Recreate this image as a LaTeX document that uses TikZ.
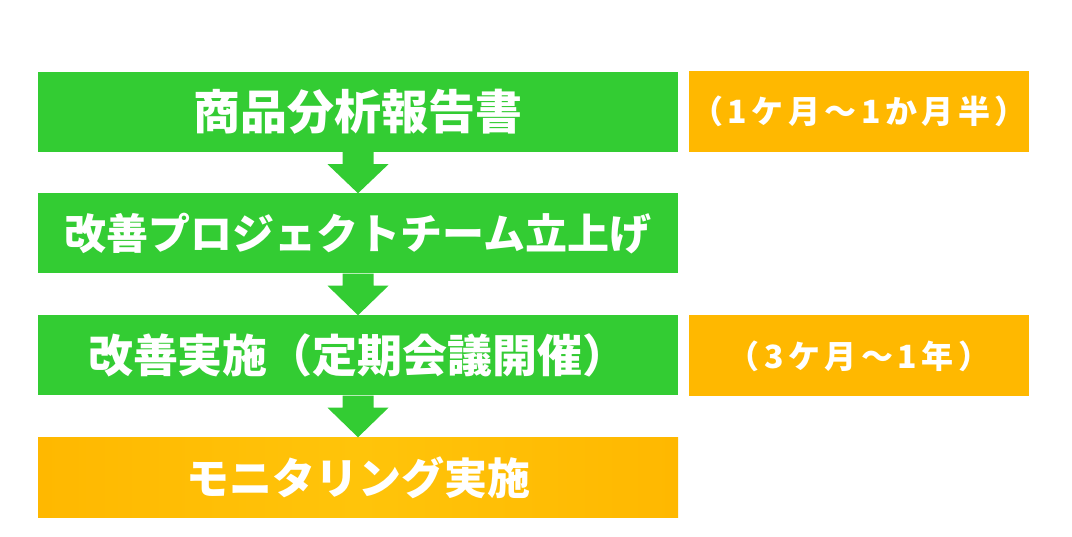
\documentclass[tikz,border=0pt]{standalone}
\usepackage{fontspec}
\newfontfamily\jp{Noto Sans CJK JP}
\newfontfamily\jpsp{Noto Sans CJK JP}[LetterSpace=14]
\usetikzlibrary{calc}
\definecolor{boxgreen}{RGB}{51,204,51}
\definecolor{boxorange}{RGB}{255,184,0}
\definecolor{boxorangelight}{RGB}{255,196,10}
\tikzset{
  mainbox/.style={minimum width=640pt, minimum height=80pt, inner sep=0pt, text=white, font=\jp\bfseries},
  greenbox/.style={mainbox, fill=boxgreen},
  orangebox/.style={mainbox, left color=boxorange, right color=boxorange, middle color=boxorangelight},
  sidebox/.style={minimum width=340pt, minimum height=81pt, inner sep=0pt, fill=boxorange, text=white, font=\jpsp\bfseries\fontsize{32}{36}\selectfont},
  flowarrow/.style={fill=boxgreen}
}
\begin{document}
\begin{tikzpicture}[x=1pt,y=-1pt]
\useasboundingbox (0,0) rectangle (1072,537);
\node[greenbox, font=\jp\bfseries\fontsize{47}{50}\selectfont] (b1) at (358,112) {商品分析報告書};
\node[greenbox, font=\jp\bfseries\fontsize{42}{46}\selectfont] (b2) at (358,233.5) {改善プロジェクトチーム立上げ};
\node[greenbox, font=\jp\bfseries\fontsize{45}{48}\selectfont] (b3) at (358,355.5) {改善実施（定期会議開催）};
\node[orangebox, font=\jp\bfseries\fontsize{43}{46}\selectfont] (b4) at (358,477.5) {モニタリング実施};
\node[sidebox] (s1) at (859,111.5) {（1ケ月～1か月半）};
\node[sidebox] (s2) at (859,356) {（3ケ月～1年）};
\foreach \a/\b in {b1/b2, b2/b3, b3/b4}{
  \fill[flowarrow] ($(\a.south)+(-15.5,0)$) -- ($(\a.south)+(15.5,0)$) -- ($(\a.south)+(15.5,12)$) -- ($(\a.south)+(30.5,12)$) -- (\b.north) -- ($(\a.south)+(-30.5,12)$) -- ($(\a.south)+(-15.5,12)$) -- cycle;
}
\end{tikzpicture}
\end{document}
